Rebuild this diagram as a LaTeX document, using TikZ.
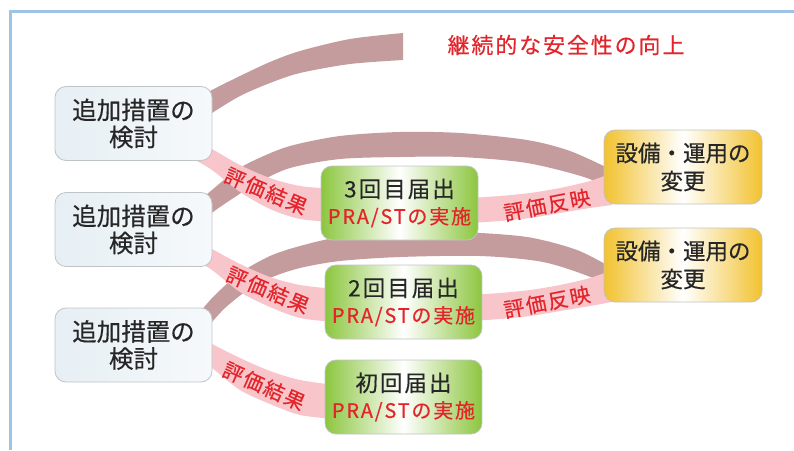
\documentclass[tikz,border=0pt]{standalone}
\usepackage{fontspec}
\newfontfamily\jp[FakeBold=0.4]{Noto Sans CJK JP}
\newfontfamily\jpls[LetterSpace=9,FakeBold=0.4]{Noto Sans CJK JP}
\definecolor{frameblue}{HTML}{9DC3E6}
\definecolor{darkrib}{HTML}{C49C9D}
\definecolor{pinkrib}{HTML}{F8C6CA}
\definecolor{labred}{HTML}{E3242B}
\definecolor{txt}{HTML}{262626}
\definecolor{grn}{HTML}{8CC63F}
\definecolor{ylw}{HTML}{F2C230}
\definecolor{lbA}{HTML}{E6EFF4}
\definecolor{lbB}{HTML}{F6F9FB}
\definecolor{boxborder}{HTML}{BFC4C7}
\begin{document}
\begin{tikzpicture}[x=1pt,y=-1pt,
  basebox/.style={draw=boxborder, line width=0.8pt, rounded corners=11pt,
    minimum width=157pt, minimum height=74pt, align=center, inner sep=0pt, text=txt},
  leftbox/.style={basebox, left color=lbA, right color=lbB,
    font=\jp\fontsize{24.5}{27}\selectfont},
  greenbox/.style={basebox, left color=grn, right color=grn, middle color=white,
    font=\jpls\fontsize{22.5}{26.5}\selectfont},
  yellowbox/.style={basebox, left color=ylw, right color=ylw, middle color=white,
    font=\jp\fontsize{22.5}{28}\selectfont},
  riblabel/.style={text=labred, font=\jpls\fontsize{20.5}{20.5}\selectfont, inner sep=0pt},
  titletext/.style={text=labred, font=\jpls\fontsize{21.9}{24}\selectfont, inner sep=0pt}
]
\useasboundingbox (0,0) rectangle (794,450);
\fill[white] (0,0) rectangle (794,450);
\draw[frameblue, line width=3pt] (10.5,450) -- (10.5,11.5) -- (794,11.5);

% dark (back) ribbons
\fill[darkrib] plot[smooth] coordinates {(200,98) (212,90) (240,76) (270,62) (300,51) (350,39) (403,33)}
  -- plot[smooth] coordinates {(403,60) (350,64) (300,73) (270,83) (240,96) (212,113) (200,122)} -- cycle;
\fill[darkrib] plot[smooth] coordinates {(200,200) (212,190) (235,171) (257,159) (290,146) (340,136) (400,132) (460,133) (527,140) (570,151) (612,170)}
  -- plot[smooth] coordinates {(612,192) (587,178) (527,163) (460,157) (400,157) (340,159) (290,168) (257,183) (235,197) (213,212) (205,220)} -- cycle;
\fill[darkrib] plot[smooth] coordinates {(200,312) (215,295) (240,273) (270,256) (300,246) (340,237) (400,232) (460,232) (527,237) (577,250) (612,268)}
  -- plot[smooth] coordinates {(612,290) (593,278) (543,262) (480,256) (400,257) (340,261) (300,268) (270,278) (245,292) (225,308) (212,322)} -- cycle;

% pink (front) ribbons
\fill[pinkrib] plot[smooth] coordinates {(195,140) (212,149) (240,165) (270,178) (300,186) (335,189)}
  -- plot[smooth] coordinates {(335,222) (300,219) (270,209) (240,192) (212,170) (195,160)} -- cycle;
\fill[pinkrib] plot[smooth] coordinates {(195,240) (212,249) (240,264) (270,277) (300,285) (335,289)}
  -- plot[smooth] coordinates {(335,322) (300,318) (270,307) (240,292) (212,270) (195,260)} -- cycle;
\fill[pinkrib] plot[smooth] coordinates {(195,335) (212,344) (240,358) (270,371) (300,380) (335,385)}
  -- plot[smooth] coordinates {(335,419) (300,415) (270,404) (240,390) (212,368) (195,357)} -- cycle;
\fill[pinkrib] plot[smooth] coordinates {(470,198) (500,196) (530,193) (560,188) (590,181) (612,173)}
  -- plot[smooth] coordinates {(612,205) (590,208) (560,213) (530,218) (500,221) (470,223)} -- cycle;
\fill[pinkrib] plot[smooth] coordinates {(470,295) (500,293) (530,290) (560,285) (590,278) (612,270)}
  -- plot[smooth] coordinates {(612,302) (590,306) (560,311) (530,316) (500,319) (470,321)} -- cycle;

% ribbon labels
\node[riblabel, rotate=-23] (r1) at (266,191) {評価結果};
\node[riblabel, rotate=-23] (r2) at (268,290) {評価結果};
\node[riblabel, rotate=-24] (r3) at (264,386) {評価結果};
\node[riblabel, rotate=11] (f1) at (547,205) {評価反映};
\node[riblabel, rotate=11] (f2) at (547,302) {評価反映};

% boxes
\node[leftbox] (a1) at (133.5,123.5) {追加措置の\\検討};
\node[leftbox] (a2) at (133.5,229.5) {追加措置の\\検討};
\node[leftbox] (a3) at (133.5,345) {追加措置の\\検討};

\node[greenbox] (g3) at (399.5,203) {3回目届出\\\textcolor{labred}{\fontsize{20}{20}\selectfont PRA/STの実施}};
\node[greenbox] (g2) at (403.5,302) {2回目届出\\\textcolor{labred}{\fontsize{20}{20}\selectfont PRA/STの実施}};
\node[greenbox] (g1) at (403.5,397) {初回届出\\\textcolor{labred}{\fontsize{20}{20}\selectfont PRA/STの実施}};

\node[yellowbox, minimum width=158pt] (y1) at (683,167) {設備・運用の\\変更};
\node[yellowbox, minimum width=158pt] (y2) at (683,265) {設備・運用の\\変更};

\node[titletext] (t) at (566,45) {継続的な安全性の向上};
\end{tikzpicture}
\end{document}
